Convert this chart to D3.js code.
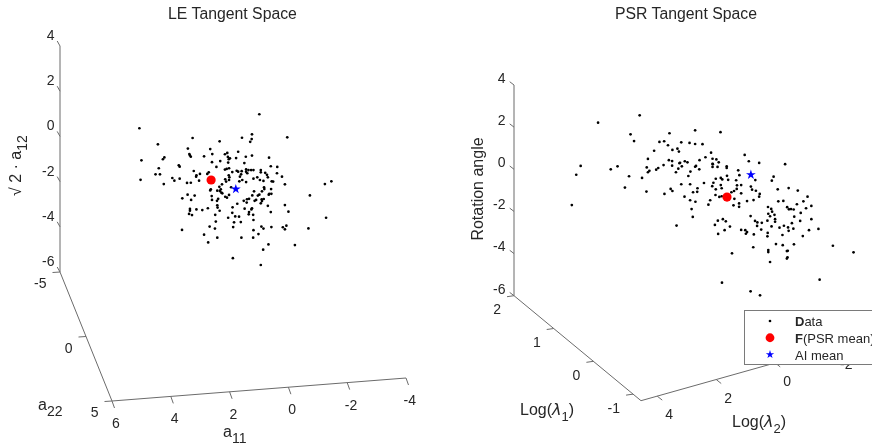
<!DOCTYPE html>
<html><head><meta charset="utf-8">
<script src="https://cdn.jsdelivr.net/npm/d3@7"></script>
<style>html,body{margin:0;background:#fff;overflow:hidden}svg{display:block;filter:blur(0.3px)}text{font-family:"Liberation Sans",Arial,sans-serif;fill:#262626}</style>
</head><body><svg id="c" width="872" height="445"></svg>
<script>
// LE panel: a11-equivalent position on the back wall, and sqrt(2)*a12
const leA11=[3.30,2.67,1.49,.57,1.65,.89,3.23,2.45,2.50,1.60,1.58,1.55,.82,1.10,.39,.31,.29,.26,.22,.83,.55,.28,1.96,1.93,2.64,.68,.33,.39,.25,1.45,2.75,2.60,1.24,1.36,1.37,.94,.99,.26,.24,2.18,2.11,1.93,3.26,2.47,1.68,1.55,1.27,.94,.38,.35,.25,.58,.49,.87,.53,
-.78,-.19,-.53,-.52,-.47,-1.73,-.06,-.32,-.53,.01,-1.11,-.27,-1.17,-1.39,-.01,-.06,-.18,.14,-.33,-.41,-.50,-.58,-.33,-.37,-.16,-.12,-.83,-.83,-.98,-1.04,-1.38,-1.55,-.58,-.71,-.80,-.92,-1.07,-1.20,-1.25,-.10,-.20,-.33,-1.65,.18,-.94,-.95,-1.18,-3.01,-3.23,
.89,.65,.56,.51,.48,1.66,1.42,1.84,1.54,.84,.83,.62,.66,.38,.32,.25,.65,.64,.57,.97,1.16,1.36,1.58,1.58,1.61,1.51,.72,.28,.70,.91,.73,1.85,1.10,.65,.96,
-1.19,-.60,-.54,-.73,-.78,-.87,-1.12,-1.10,-2.50,-.43,-.36,-.25,-.35,-.67,-.62,-.86,-.93,-.87,-.83,-.03,-1.07,-1.65,-.28,-.53,-.51,.13,-.43,-.42,-.57,.14,-1.17,-1.77,.04,-.09,-3.05,-.58,.08,-.15,.11,-.85,-.92,-1.19,-1.58,-1.65,-1.70,-2.45,-.58,-.75,-.17,-.57,-1.09,-1.99,-.91,.12,-.83];
const leZ=[.36,-.35,-.07,-.22,-.54,-.56,-1.06,-.93,-1.01,-.78,-.84,-.90,-.78,-.88,-.79,-.73,-.91,-1.01,-.97,-1.14,-1.09,-1.16,-1.28,-1.34,-1.41,-1.35,-1.44,-1.47,-1.41,-1.53,-1.68,-1.68,-1.66,-1.72,-1.78,-1.59,-1.66,-1.72,-1.81,-1.84,-1.96,-1.87,-1.92,-2.11,-2.06,-2.05,-1.96,-1.89,-1.90,-2.00,-1.93,-2.23,-2.12,-2.34,-2.34,
.98,-.06,.09,-.12,-.24,-.04,-.68,-.90,-.85,-.96,-.94,-1.18,-1.32,-1.35,-1.52,-1.56,-1.54,-1.58,-1.46,-1.49,-1.49,-1.49,-1.56,-1.63,-1.68,-1.78,-1.49,-1.59,-1.61,-1.70,-1.63,-1.78,-1.87,-1.81,-1.93,-1.97,-1.81,-1.99,-2.00,-1.99,-1.93,-2.02,-2.12,-2.25,-2.25,-2.33,-2.33,-2.11,-1.99,
-2.39,-2.40,-2.42,-2.49,-2.52,-2.58,-2.62,-2.74,-2.81,-2.64,-2.81,-2.76,-2.85,-2.67,-2.71,-2.59,-3.05,-3.15,-3.29,-3.18,-3.26,-3.23,-3.21,-3.29,-3.43,-3.48,-3.47,-3.60,-3.77,-3.99,-4.08,-4.14,-4.35,-4.48,-4.69,
-2.54,-2.43,-2.61,-2.62,-2.58,-2.43,-2.54,-2.58,-2.61,-2.76,-2.78,-2.85,-2.93,-2.81,-2.85,-2.78,-2.77,-2.86,-2.96,-2.98,-3.07,-3.04,-3.20,-3.18,-3.23,-3.14,-3.35,-3.45,-3.47,-3.38,-3.35,-3.33,-3.54,-3.55,-3.60,-3.70,-3.80,-3.79,-4.01,-3.99,-4.08,-4.01,-4.02,-4.11,-3.95,-4.07,-4.15,-4.32,-4.48,-4.48,-4.78,-4.81,-5.01,-5.39,-5.69];
const leMeanF=[.86,-1.93], leMeanAI=[.02,-2.33];
// PSR panel: Log(lambda2)-equivalent position on the back wall, and rotation angle
const psrL2=[.29,1.70,.60,.48,-.72,-.38,-.54,-.67,-.20,-.82,-.99,-1.04,.01,-.70,-.81,-1.06,2.29,2.44,2.59,1.04,1.27,.05,-.34,-.27,-.52,-.81,-1.02,-.04,.01,-.94,.65,.21,.79,.06,-.55,-.76,-.82,
-1.59,-2.45,-1.12,-1.40,-1.59,-1.84,-2.13,-3.27,-1.94,-2.18,-2.31,-1.74,-3.41,-3.76,-4.64,-2.39,-2.18,-2.19,-1.24,-1.08,-1.14,-1.33,-1.62,-1.59,-1.73,-1.43,-1.36,-2.18,-2.35,-2.66,-2.66,-3.05,-3.09,-2.67,-2.71,-2.46,-2.51,-2.29,-2.98,-3.63,-4.25,-4.19,-2.21,-2.17,-2.46,-1.89,-1.12,-1.42,-3.01,-3.15,-3.00,-3.48,-3.52,-3.65,-2.29,-2.49,-1.67,-1.52,-1.66,-4.39,-4.76,-2.82,-2.91,-3.15,-2.28,-2.49,-2.41,-1.23,-3.78,-3.76,-2.92,-3.57,-3.35,-2.10,-1.42,-1.60,-4.41,-4.58,-2.04,-2.89,-3.08,-3.08,-4.06,-4.17,-4.71,-1.47,
-4.20,-4.07,-4.28,-4.13,-4.77,-1.51,-.96,-3.47,-4.04,-4.30,-4.30,-2.36,-2.53,-2.63,-2.26,-2.77,-2.59,-2.37,-3.62,-3.70,-3.85,-3.69,-4.18,-4.45,-4.60,-4.74,-4.76,-3.83,-3.15,-3.29,-3.35,-3.31,-3.58,-4.05,-4.04,-4.55,-4.33,-4.56,-3.56,-4.07,-4.07,-4.70,-2.84,-4.72,-4.70,-4.13,-2.50,-3.47,-3.79,
-5.07,-5.40,-5.26,-5.04,-5.53,-5.35,-4.84,-4.93,-5.17,-4.95,-5.53,-5.15,-4.87,-4.92,-5.45,-5.77,-5.24,-4.94,-6.26,-6.96,-5.81,-4.73];
const psrZ=[2.56,2.21,1.66,1.34,1.71,1.30,1.33,1.14,.88,.92,.98,.84,.49,.43,.39,.29,.16,-.26,-1.70,.14,0,.09,.06,-.02,.20,.17,.03,-.07,-.14,-.14,-.33,-.41,-.87,-1.06,-1.17,-.93,-1.03,
1.85,1.76,1.28,1.25,1.20,1.19,.79,.68,.57,.50,.47,.43,.38,.30,.24,.33,.26,.24,.38,.31,.14,.33,.16,.12,0,-.11,-.32,.11,.11,.14,.06,-.05,-.28,-.31,-.50,-.41,-.48,-.45,-.52,-.51,-.35,-.54,-.64,-.80,-.75,-.65,-.71,-.71,-.76,-.75,-.93,-.82,-.97,-1.02,-.95,-.90,-.90,-1.09,-1.07,-.95,-.89,-1.09,-1.03,-1.14,-1.22,-1.28,-1.31,-1.30,-1.17,-1.30,-1.40,-1.46,-1.51,-1.47,-1.47,-1.54,-1.52,-1.50,-1.68,-1.71,-1.62,-1.78,-1.79,-1.88,-1.80,-1.89,
-2.01,-2.11,-2.16,-2.23,-1.90,-2.26,-2.67,-2.22,-2.44,-2.37,-2.49,-2.44,-2.37,-2.47,-2.64,-2.72,-2.89,-3.07,-2.45,-2.52,-2.54,-2.69,-2.71,-2.77,-2.68,-2.76,-2.92,-2.86,-2.88,-2.89,-2.98,-3.06,-3.09,-3.02,-3.18,-3.12,-3.55,-3.60,-3.70,-3.83,-3.93,-3.88,-3.99,-4.18,-4.24,-4.40,-5.38,-5.79,-5.98,
-1.01,-1.30,-1.52,-1.66,-1.74,-1.85,-1.89,-1.91,-2.07,-2.25,-2.37,-2.45,-2.56,-2.82,-2.89,-2.83,-3.17,-3.56,-3.63,-3.94,-5.24,-3.87];
const psrMeanF=[-2.67,-1.32], psrMeanAI=[-3.48,-.26];
const zTicks=[-6,-4,-2,0,2,4];
const a11Ticks=[6,4,2,0,-2,-4];
const a22Ticks=[-5,0,5];
const l1Ticks=[2,1,0,-1];
const l2Ticks=[4,2,0,-2];
const legendLabels=["Data","F","(PSR mean)","AI mean"];

const svg=d3.select("#c");
const AX="#6b6b6b";
function seg(g,p,q){g.append("line").attr("x1",p[0]).attr("y1",p[1]).attr("x2",q[0]).attr("y2",q[1]).attr("stroke",AX).attr("stroke-width",1);}
function txt(g,x,y,s,a,fs){return g.append("text").attr("x",x).attr("y",y).attr("text-anchor",a||"middle").attr("font-size",fs||14).text(s);}
function sub(g,x,y,base,subs,fs){const t=g.append("text").attr("x",x).attr("y",y).attr("font-size",fs||16);t.append("tspan").text(base);t.append("tspan").attr("dy",6).attr("font-size",14).text(subs);return t;}

function panel(o){
  const g=svg.append("g");
  const z=d3.scaleLinear().domain([-6,4]).range([o.zBottom,o.zTop]);
  const wall=d3.scaleLinear().domain(o.wallDomain).range(o.wallRange);
  seg(g,[o.wallRange[0],z(-6)],[o.wallRange[0],z(4)]);
  zTicks.forEach(v=>{
    seg(g,[o.wallRange[0],z(v)],[o.wallRange[0]+o.zTick[0],z(v)+o.zTick[1]]);
    txt(g,o.zLabelX,z(v)+o.zLabelDy,v,"end");
  });
  const sa=d3.scaleLinear().domain(o.aDomain).range(o.aRange);
  const sb=d3.scaleLinear().domain(o.bDomain).range(o.bRange);
  const A=v=>sa(v).slice(), B=v=>sb(v).slice();
  seg(g,A(o.aDomain[0]),A(o.aDomain[1]));
  seg(g,B(o.bDomain[0]),B(o.bDomain[1]));
  o.aTicks.forEach(v=>{const p=A(v);
    seg(g,p,[p[0]+o.aTick[0],p[1]+o.aTick[1]]);
    txt(g,p[0]+o.aLab[0],p[1]+o.aLab[1],v,"end");});
  o.bTicks.forEach(v=>{const p=B(v);
    seg(g,p,[p[0]+o.bTick[0],p[1]+o.bTick[1]]);
    txt(g,p[0]+o.bLab[0],p[1]+o.bLab[1],v,"middle");});
  g.selectAll("circle.d").data(d3.zip(o.xs,o.zs)).join("circle").attr("class","d")
    .attr("cx",d=>wall(d[0])).attr("cy",d=>z(d[1])).attr("r",1.35).attr("fill","#000");
  g.append("circle").attr("cx",wall(o.f[0])).attr("cy",z(o.f[1])).attr("r",4.6).attr("fill","#f00");
  g.append("path").attr("d",d3.symbol(d3.symbolStar,30)()).attr("transform",`translate(${wall(o.ai[0])},${z(o.ai[1])})`).attr("fill","#00f");
  txt(g,o.titleX,19,o.title,"middle",15.8);
  return g;
}
const L=panel({zBottom:272,zTop:46,wallDomain:[6,-4],wallRange:[60,354],zTick:[-2.8,-5],zLabelX:54.5,zLabelDy:-6,
  aDomain:[-5,5],aRange:[[60,272],[112,401]],bDomain:[6,-4],bRange:[[112,401],[406,378]],
  aTicks:a22Ticks,bTicks:a11Ticks,aTick:[-7.5,.5],bTick:[2.5,7],aLab:[-13.5,16],bLab:[3.8,27],
  xs:leA11,zs:leZ,f:leMeanF,ai:leMeanAI,title:"LE Tangent Space",titleX:232.5});
sub(L,223,437,"a","11");
sub(L,38,410,"a","22");
const t1=L.append("text").attr("transform","translate(21,196) rotate(-90)").attr("font-size",16);
t1.append("tspan").text("√ 2 · a");
t1.append("tspan").attr("dy",6).attr("font-size",14).text("12");

const R=panel({zBottom:295.7,zTop:85,wallDomain:[4.55,-7],wallRange:[514,514+11.55*29.5],zTick:[-4.3,-3.3],zLabelX:505.5,zLabelDy:-2.2,
  aDomain:[2,-1.2],aRange:[[514,295.7],[641,400.7]],bDomain:[4.55,-3],bRange:[[641,400.7],[863.7,338]],
  aTicks:l1Ticks,bTicks:l2Ticks,aTick:[-7,1],bTick:[5,4],aLab:[-13,18.5],bLab:[12,23],
  xs:psrL2,zs:psrZ,f:psrMeanF,ai:psrMeanAI,title:"PSR Tangent Space",titleX:686});
R.append("text").attr("transform","translate(483,189) rotate(-90)").attr("text-anchor","middle").attr("font-size",16).text("Rotation angle");
function logLab(x,y,n){const t=R.append("text").attr("x",x).attr("y",y).attr("font-size",16);
  t.append("tspan").text("Log(");
  t.append("tspan").attr("font-family","DejaVu Sans").attr("font-style","italic").text("λ");
  t.append("tspan").attr("dy",6).attr("font-size",13).text(n);
  t.append("tspan").attr("dy",-6).text(")");}
logLab(520,415,"1");
logLab(732,427,"2");

const lg=svg.append("g");
lg.append("rect").attr("x",744.5).attr("y",310.5).attr("width",140).attr("height",54).attr("fill","#fff").attr("stroke","#7a7a7a");
const lx=770, ly=d3.scalePoint().domain([0,1,2]).range([321,354.5]);
lg.append("circle").attr("cx",lx).attr("cy",ly(0)).attr("r",1.35).attr("fill","#000");
lg.append("circle").attr("cx",lx).attr("cy",ly(1)).attr("r",4.4).attr("fill","#f00");
lg.append("path").attr("d",d3.symbol(d3.symbolStar,22)()).attr("transform",`translate(${lx},${ly(2)})`).attr("fill","#00f");
const t0=lg.append("text").attr("x",795).attr("y",ly(0)+5).attr("font-size",13);
t0.append("tspan").attr("font-weight","bold").text(legendLabels[0][0]);t0.append("tspan").text(legendLabels[0].slice(1));
const tf=lg.append("text").attr("x",795).attr("y",ly(1)+5).attr("font-size",13);
tf.append("tspan").attr("font-weight","bold").text(legendLabels[1]);tf.append("tspan").text(legendLabels[2]);
lg.append("text").attr("x",795).attr("y",ly(2)+5).attr("font-size",13).text(legendLabels[3]);
</script></body></html>
